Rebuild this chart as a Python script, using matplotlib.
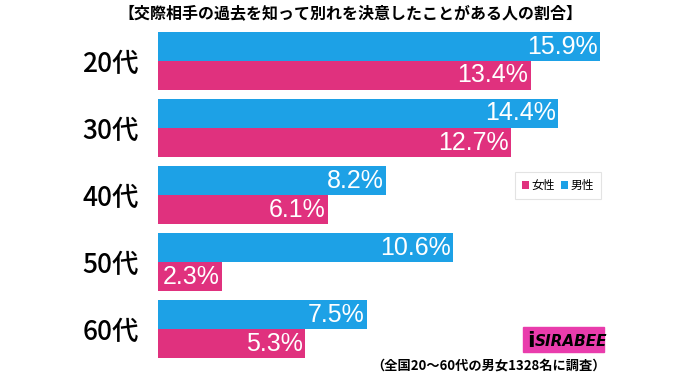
import matplotlib.pyplot as plt
from matplotlib.patches import Rectangle

plt.rcParams['font.family'] = ['Noto Sans CJK JP', 'DejaVu Sans']

# data
ages = ['20代', '30代', '40代', '50代', '60代']
male = [15.9, 14.4, 8.2, 10.6, 7.5]
female = [13.4, 12.7, 6.1, 2.3, 5.3]

blue = '#1DA1E6'
pink = '#E0317E'

fig = plt.figure(figsize=(7, 3.77), dpi=100)
ax = fig.add_axes([158 / 700, 1 - 358 / 377, 1 - 158 / 700, 326 / 377])

h = 29 / 67
ypos = list(range(len(ages)))
ax.barh([y - h / 2 for y in ypos], male, height=h, color=blue, label='男性')
ax.barh([y + h / 2 for y in ypos], female, height=h, color=pink, label='女性')

for y, m, f in zip(ypos, male, female):
    ax.text(m - 0.08, y - h / 2, f'{m}%', color='white', fontsize=18,
            ha='right', va='center', family=['Liberation Sans', 'DejaVu Sans'])
    ax.text(f - 0.08, y + h / 2, f'{f}%', color='white', fontsize=18,
            ha='right', va='center', family=['Liberation Sans', 'DejaVu Sans'])

ax.set_xlim(0, 542 / 27.8)
ax.set_ylim(len(ages) - 1 + h, -h)
ax.set_yticks(ypos)
ax.set_yticklabels(ages, fontsize=19, fontweight='medium')
ax.tick_params(axis='y', length=0, pad=14)
ax.set_xticks([])
for s in ax.spines.values():
    s.set_visible(False)

handles, labels = ax.get_legend_handles_labels()
leg = ax.legend(handles[::-1], labels[::-1], loc='upper left',
                bbox_to_anchor=((515 - 158) / 542, 1 - (172 - 32) / 326),
                ncol=2, fontsize=8.5, handlelength=0.6, handleheight=0.6,
                handletextpad=0.2, columnspacing=0.5, frameon=True,
                fancybox=False, borderpad=0.6, borderaxespad=0)
leg.get_frame().set_edgecolor('#DDDDDD')
leg.get_frame().set_linewidth(0.8)

fig.text(0.5, 1 - 13 / 377, '【交際相手の過去を知って別れを決意したことがある人の割合】',
         ha='center', va='center', fontsize=11.5, fontweight='bold')
fig.text(606 / 700, 1 - 366 / 377, '（全国20〜60代の男女1328名に調査）',
         ha='right', va='center', fontsize=9.5, fontweight='bold')

# logo
fig.patches.append(Rectangle((523 / 700, 1 - 352 / 377), 81 / 700, 25 / 377,
                             transform=fig.transFigure, color='#E93CAC'))
fig.text(535 / 700, 1 - 342 / 377, 'SIRABEE', fontsize=11, fontweight='bold',
         fontstyle='italic', color='black', va='center', ha='left',
         family=['DejaVu Sans'])
fig.text(527 / 700, 1 - 341 / 377, 'i', fontsize=16, fontweight='bold',
         color='black', va='center', ha='left', family=['DejaVu Sans'])

fig.savefig('out.png', dpi=100)
